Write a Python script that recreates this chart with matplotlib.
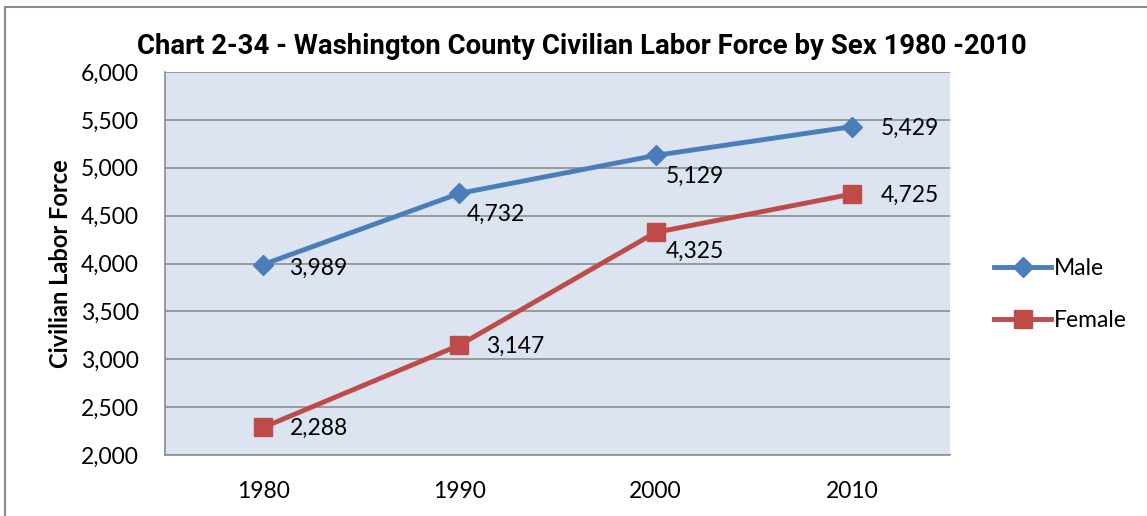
import matplotlib.pyplot as plt
from matplotlib.patches import Rectangle
from matplotlib.ticker import FuncFormatter

years = ["1980", "1990", "2000", "2010"]
male = [3989, 4732, 5129, 5429]
female = [2288, 3147, 4325, 4725]
y_ticks = [2000, 2500, 3000, 3500, 4000, 4500, 5000, 5500, 6000]

FONT = ["Lato", "DejaVu Sans"]
plt.rcParams['font.family'] = FONT

fig = plt.figure(figsize=(11.47, 5.16), dpi=100)
fig.patches.append(Rectangle((5 / 1147, -0.1), 1.2, 1 - 7 / 516 + 0.1, transform=fig.transFigure,
                             fill=False, edgecolor="#8c8c8c", linewidth=1.5))

ax = fig.add_axes([165 / 1147, 1 - 455 / 516, 785 / 1147, 383 / 516])
ax.set_facecolor("#dbe4f0")
x = range(len(years))

ax.plot(x, male, color="#4a7ebb", linewidth=3.5, marker="D", markersize=10, label="Male", zorder=3)
ax.plot(x, female, color="#be4b48", linewidth=3.5, marker="s", markersize=13, label="Female", zorder=3)

# data labels (offsets in points)
male_off = [(19, -3), (5, -15), (7, -15), (21, -1)]
female_off = [(19, -1), (19, -1), (7, -14), (21, -1)]
for i, v in enumerate(male):
    ax.annotate(f"{v:,}", (i, v), xytext=male_off[i], textcoords="offset points",
                fontsize=16.5, va="center", ha="left")
for i, v in enumerate(female):
    ax.annotate(f"{v:,}", (i, v), xytext=female_off[i], textcoords="offset points",
                fontsize=16.5, va="center", ha="left")

ax.set_xlim(-0.5, 3.5)
ax.set_ylim(2000, 6000)
ax.set_yticks(y_ticks)
ax.yaxis.set_major_formatter(FuncFormatter(lambda v, p: f"{int(v):,}"))
ax.set_xticks(list(x))
ax.set_xticklabels(years)
ax.grid(axis="y", color="#8c8c8c", linewidth=1.2)
ax.set_axisbelow(True)
ax.tick_params(axis="both", length=0, labelsize=16.5)
ax.tick_params(axis="y", pad=19)
ax.tick_params(axis="x", pad=19)
for s in ["top", "right"]:
    ax.spines[s].set_visible(False)
for s in ["left", "bottom"]:
    ax.spines[s].set_color("#8c8c8c")
    ax.spines[s].set_linewidth(1.2)

ax.set_ylabel("Civilian Labor Force", fontsize=17, fontweight="bold", labelpad=6)

fig.text(582 / 1147, 1 - 47 / 516, "Chart 2-34 - Washington County Civilian Labor Force by Sex 1980 -2010",
         ha="center", va="center", fontsize=19.8, fontweight="bold",
         family=["Roboto", "DejaVu Sans"])

ax.legend(loc="center left", bbox_to_anchor=(1.03, 0.42), frameon=False, fontsize=16.5,
          handlelength=2.5, handletextpad=0.1, labelspacing=1.35)

fig.savefig("out.png", dpi=100)
